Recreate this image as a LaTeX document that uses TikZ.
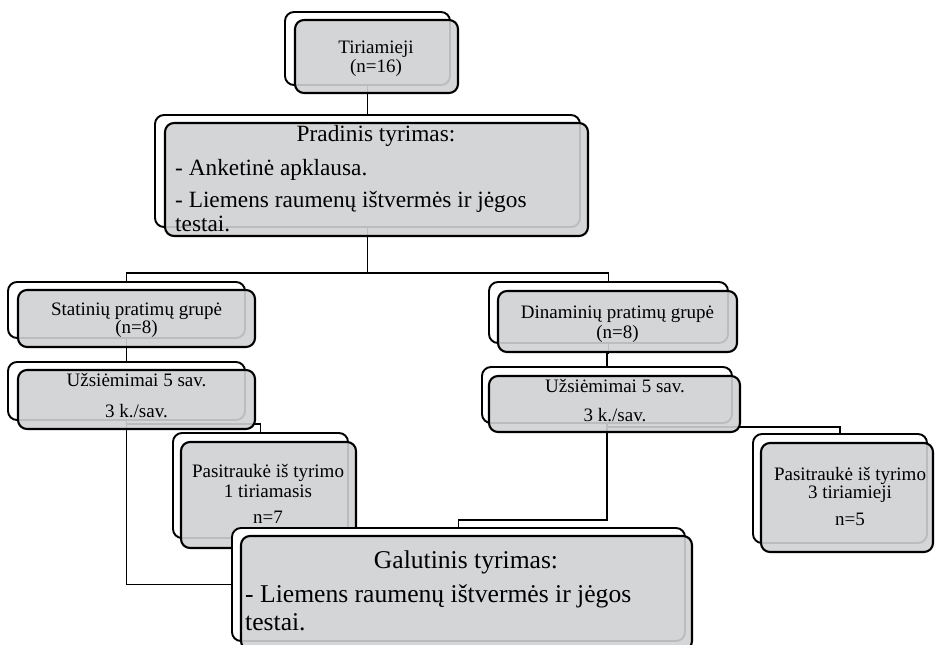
\documentclass[tikz,border=0pt]{standalone}
\usepackage{fontspec}
\setmainfont{Liberation Serif}
\usetikzlibrary{fit}
\definecolor{boxgray}{RGB}{208,209,211}
\tikzset{
  backbox/.style={draw=black, line width=1.9pt, fill=white, rounded corners=9pt, inner sep=0pt},
  frontbox/.style={draw=black, line width=2.1pt, fill=boxgray, fill opacity=0.9, rounded corners=9pt, inner sep=0pt},
  conn/.style={draw=black, line width=1.9pt},
  smalltxt/.style={font=\fontsize{19}{19}\selectfont, inner sep=0pt, anchor=base},
  pradtxt/.style={font=\fontsize{23.3}{23.3}\selectfont, inner sep=0pt, anchor=base},
  galtxt/.style={font=\fontsize{25.6}{25.6}\selectfont, inner sep=0pt, anchor=base},
}
\begin{document}
\begin{tikzpicture}[x=1pt,y=-1pt]
\useasboundingbox (0,0) rectangle (935,645);
\clip (0,0) rectangle (935,645);
% geometry of the back boxes (connector ends)
\path
  coordinate (tir1) at (285,12) coordinate (tir2) at (450,85)
  coordinate (prad1) at (155,115) coordinate (prad2) at (580,227)
  coordinate (stat1) at (8,282) coordinate (stat2) at (245,338)
  coordinate (uzsL1) at (8,362) coordinate (uzsL2) at (245,420)
  coordinate (din1) at (489,282) coordinate (din2) at (728,343)
  coordinate (uzsR1) at (482,367) coordinate (uzsR2) at (732,423)
  coordinate (pasA1) at (173,433) coordinate (pasA2) at (348,538)
  coordinate (pasB1) at (753,434) coordinate (pasB2) at (927,543)
  coordinate (gal1) at (232,528) coordinate (gal2) at (685,641);
\path
  node[fit=(tir1)(tir2), inner sep=0pt] (tirB) {}
  node[fit=(prad1)(prad2), inner sep=0pt] (pradB) {}
  node[fit=(stat1)(stat2), inner sep=0pt] (statB) {}
  node[fit=(uzsL1)(uzsL2), inner sep=0pt] (uzsLB) {}
  node[fit=(din1)(din2), inner sep=0pt] (dinB) {}
  node[fit=(uzsR1)(uzsR2), inner sep=0pt] (uzsRB) {}
  node[fit=(pasA1)(pasA2), inner sep=0pt] (pasAB) {}
  node[fit=(pasB1)(pasB2), inner sep=0pt] (pasBB) {}
  node[fit=(gal1)(gal2), inner sep=0pt] (galB) {};
% connectors
\draw[conn] (tirB.south) -- (pradB.north);
\draw[conn] (pradB.south) -- ++(0,46) -| (statB.north);
\draw[conn] (pradB.south) -- ++(0,46) -| (dinB.north);
\draw[conn] (statB.south) -- (uzsLB.north);
\draw[conn] (dinB.south) -- ++(0,10) -| (uzsRB.north);
\draw[conn] (uzsLB.south) -- ++(0,4) -| (pasAB.north);
\draw[conn] (uzsLB.south) |- (galB.west);
\draw[conn] (uzsRB.south) -- ++(0,4) -| (pasBB.north);
\draw[conn] (uzsRB.south) -- ++(0,97) -| (galB.north);
% boxes
\node[backbox, fit=(tir1)(tir2)] (tirBack) {};
\node[frontbox, fit={(295,20) (458,93)}] (tir) {};
\node[backbox, fit=(prad1)(prad2)] (pradBack) {};
\node[frontbox, fit={(165,123) (588,236)}] (prad) {};
\node[backbox, fit=(stat1)(stat2)] (statBack) {};
\node[frontbox, fit={(18,290) (255,347)}] (stat) {};
\node[backbox, fit=(uzsL1)(uzsL2)] (uzsLBack) {};
\node[frontbox, fit={(18,370) (255,429)}] (uzsL) {};
\node[backbox, fit=(din1)(din2)] (dinBack) {};
\node[frontbox, fit={(498,291) (737,352)}] (din) {};
\node[backbox, fit=(uzsR1)(uzsR2)] (uzsRBack) {};
\node[frontbox, fit={(489,376) (740,432)}] (uzsR) {};
\node[backbox, fit=(pasA1)(pasA2)] (pasABack) {};
\node[frontbox, fit={(181,442) (356,548)}] (pasA) {};
\node[backbox, fit=(pasB1)(pasB2)] (pasBBack) {};
\node[frontbox, fit={(761,443) (933,552)}] (pasB) {};
\node[backbox, fit=(gal1)(gal2)] (galBack) {};
\node[frontbox, fit={(241,536) (692,650)}] (gal) {};
% texts
\node[smalltxt] (tirT1) at (376,53) {Tiriamieji};
\node[smalltxt] (tirT2) at (376,72) {(n=16)};
\node[pradtxt] (pradT1) at (376,141) {Pradinis tyrimas:};
\node[pradtxt, anchor=base west] (pradT2) at (175,175) {- Anketinė apklausa.};
\node[pradtxt, anchor=base west] (pradT3) at (175,207) {- Liemens raumenų ištvermės ir jėgos};
\node[pradtxt, anchor=base west] (pradT4) at (175,231) {testai.};
\node[smalltxt] (statT1) at (136.5,315) {Statinių pratimų grupė};
\node[smalltxt] (statT2) at (136.5,333) {(n=8)};
\node[smalltxt] (uzsLT1) at (136.5,386) {Užsiėmimai 5 sav.};
\node[smalltxt] (uzsLT2) at (136.5,417) {3 k./sav.};
\node[smalltxt] (dinT1) at (617.5,318) {Dinaminių pratimų grupė};
\node[smalltxt] (dinT2) at (617.5,338) {(n=8)};
\node[smalltxt] (uzsRT1) at (615,392) {Užsiėmimai 5 sav.};
\node[smalltxt] (uzsRT2) at (615,421) {3 k./sav.};
\node[smalltxt] (pasAT1) at (268,477) {Pasitraukė iš tyrimo};
\node[smalltxt] (pasAT2) at (268,497) {1 tiriamasis};
\node[smalltxt] (pasAT3) at (268,523) {n=7};
\node[smalltxt] (pasBT1) at (850,480) {Pasitraukė iš tyrimo};
\node[smalltxt] (pasBT2) at (850,498) {3 tiriamieji};
\node[smalltxt] (pasBT3) at (850,525) {n=5};
\node[galtxt] (galT1) at (466,568) {Galutinis tyrimas:};
\node[galtxt, anchor=base west] (galT2) at (245,602) {- Liemens raumenų ištvermės ir jėgos};
\node[galtxt, anchor=base west] (galT3) at (245,630) {testai.};
\end{tikzpicture}
\end{document}
